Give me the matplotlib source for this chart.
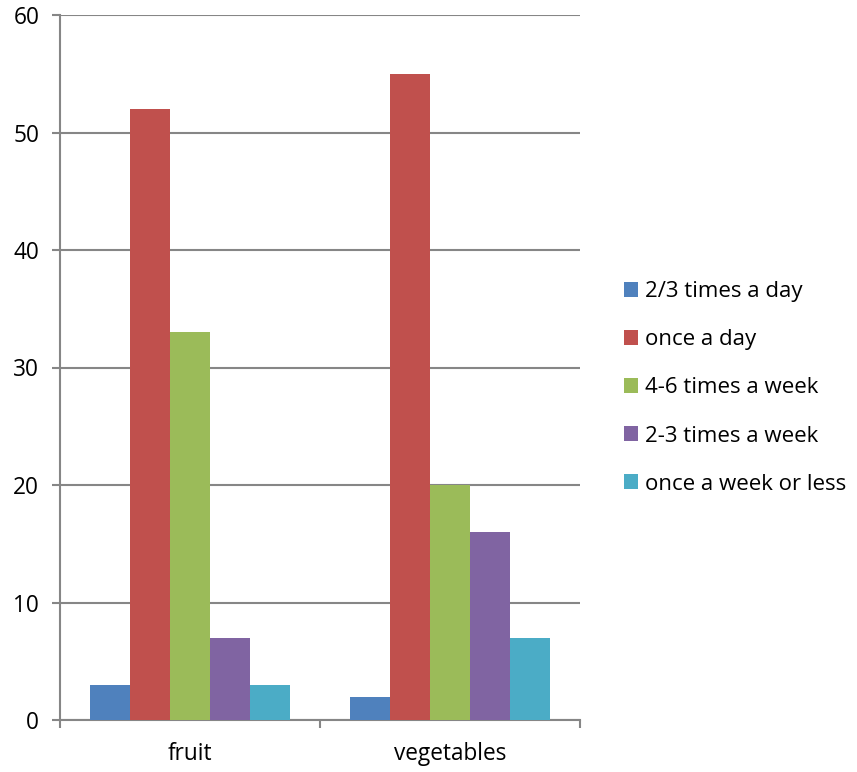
import numpy as np
import matplotlib.pyplot as plt

categories = ["fruit", "vegetables"]
series = ["2/3 times a day", "once a day", "4-6 times a week",
          "2-3 times a week", "once a week or less"]
values = [
    [3, 2],
    [52, 55],
    [33, 20],
    [7, 16],
    [3, 7],
]
colors = ["#4f81bd", "#c0504d", "#9bbb59", "#8064a2", "#4bacc6"]

plt.rcParams['font.family'] = ['Open Sans', 'DejaVu Sans']
grid_col = "#868686"

fig = plt.figure(figsize=(8.57, 7.72), dpi=100)
ax = fig.add_axes([60 / 857, 1 - 720 / 772, 520 / 857, 705 / 772])

x = np.arange(len(categories))
width = 40 / 260
offsets = (np.arange(len(series)) - 2) * width
for vals, off, col, name in zip(values, offsets, colors, series):
    ax.bar(x + off, vals, width, color=col, label=name, zorder=3)

ax.set_xlim(-0.5, 1.5)
ax.set_ylim(0, 60)
ax.set_yticks(range(0, 61, 10))
ax.yaxis.grid(True, color=grid_col, linewidth=1.5, zorder=0)
ax.set_xticks([-0.5, 0.5, 1.5])
ax.set_xticklabels([])
ax.set_xticks(x, minor=True)
ax.set_xticklabels(categories, minor=True)
ax.tick_params(axis='x', which='minor', length=0, pad=16, labelsize=16.3)
ax.tick_params(axis='x', which='major', length=6, width=1.5, color=grid_col,
               direction='out')
ax.tick_params(axis='y', length=6, width=1.5, color=grid_col, labelsize=16.3,
               pad=9)

for side in ["top", "right"]:
    ax.spines[side].set_visible(False)
for side in ["left", "bottom"]:
    ax.spines[side].set_color(grid_col)
    ax.spines[side].set_linewidth(1.5)

fig.legend(loc="center left", bbox_to_anchor=(604 / 857, 1 - 388 / 772),
           frameon=False, fontsize=16, handlelength=0.65, handleheight=0.65,
           handletextpad=0.3, labelspacing=1.22)

fig.savefig("out.png", dpi=100)
